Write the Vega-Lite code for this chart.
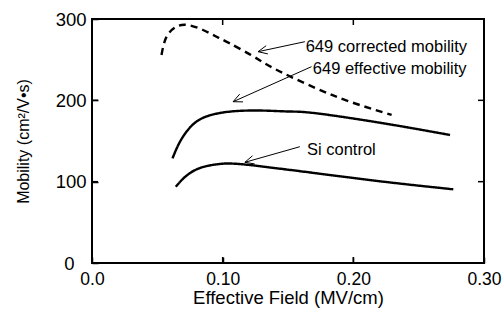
{
  "$schema": "https://vega.github.io/schema/vega-lite/v6.json",
  "width": 392,
  "height": 244,
  "autosize": "none",
  "padding": {"left": 92, "top": 19, "right": 20, "bottom": 59},
  "background": "white",
  "config": {
    "view": {"stroke": "black", "strokeWidth": 2},
    "font": "Liberation Sans",
    "axis": {"labelFont": "Liberation Sans", "titleFont": "Liberation Sans", "labelColor": "black", "titleColor": "black", "titleFontWeight": "normal", "grid": false, "domain": false}
  },
  "datasets": {
    "curves": [
      {"series": "corrected", "x": 0.0532, "y": 255.7},
      {"series": "corrected", "x": 0.057, "y": 278},
      {"series": "corrected", "x": 0.0646, "y": 290.5},
      {"series": "corrected", "x": 0.0735, "y": 292.6},
      {"series": "corrected", "x": 0.085, "y": 286.5},
      {"series": "corrected", "x": 0.0953, "y": 278.2},
      {"series": "corrected", "x": 0.1055, "y": 270},
      {"series": "corrected", "x": 0.1208, "y": 256.5},
      {"series": "corrected", "x": 0.1323, "y": 245.5},
      {"series": "corrected", "x": 0.1463, "y": 233.5},
      {"series": "corrected", "x": 0.1719, "y": 214.5},
      {"series": "corrected", "x": 0.1974, "y": 198.3},
      {"series": "corrected", "x": 0.2293, "y": 182},
      {"series": "effective", "x": 0.0616, "y": 128.6},
      {"series": "effective", "x": 0.066, "y": 145},
      {"series": "effective", "x": 0.0712, "y": 159},
      {"series": "effective", "x": 0.0774, "y": 170.5},
      {"series": "effective", "x": 0.085, "y": 178.5},
      {"series": "effective", "x": 0.095, "y": 183.5},
      {"series": "effective", "x": 0.108, "y": 186.5},
      {"series": "effective", "x": 0.128, "y": 187.5},
      {"series": "effective", "x": 0.15, "y": 186.3},
      {"series": "effective", "x": 0.1719, "y": 184},
      {"series": "effective", "x": 0.2229, "y": 171.8},
      {"series": "effective", "x": 0.274, "y": 157.4},
      {"series": "si", "x": 0.0641, "y": 93.8},
      {"series": "si", "x": 0.069, "y": 102.5},
      {"series": "si", "x": 0.0745, "y": 110},
      {"series": "si", "x": 0.081, "y": 115.8},
      {"series": "si", "x": 0.089, "y": 119.6},
      {"series": "si", "x": 0.0985, "y": 121.9},
      {"series": "si", "x": 0.108, "y": 122.2},
      {"series": "si", "x": 0.12, "y": 120.6},
      {"series": "si", "x": 0.1336, "y": 118},
      {"series": "si", "x": 0.1719, "y": 110.3},
      {"series": "si", "x": 0.2229, "y": 100},
      {"series": "si", "x": 0.2765, "y": 90.6}
    ],
    "arrows": [
      {"x": 0.1629, "y": 272.1, "x2": 0.1271, "y2": 259.8},
      {"x": 0.1346, "y": 257.1, "x2": 0.1271, "y2": 259.8},
      {"x": 0.1333, "y": 267.2, "x2": 0.1271, "y2": 259.8},
      {"x": 0.168, "y": 241.4, "x2": 0.108, "y2": 198.3},
      {"x": 0.1156, "y": 198.1, "x2": 0.108, "y2": 198.3},
      {"x": 0.113, "y": 207.6, "x2": 0.108, "y2": 198.3},
      {"x": 0.1591, "y": 143, "x2": 0.117, "y2": 123.8},
      {"x": 0.1245, "y": 121.8, "x2": 0.117, "y2": 123.8},
      {"x": 0.1228, "y": 131.8, "x2": 0.117, "y2": 123.8}
    ],
    "labels": [
      {"text": "649 corrected mobility", "x": 0.1635, "y": 265.6},
      {"text": "649 effective mobility", "x": 0.169, "y": 238.5},
      {"text": "Si control", "x": 0.1645, "y": 138.9}
    ],
    "ticks": [
      {"side": "bottom", "x": 0.1, "y": 0},
      {"side": "bottom", "x": 0.2, "y": 0},
      {"side": "top", "x": 0.1, "y": 300},
      {"side": "top", "x": 0.2, "y": 300},
      {"side": "left", "x": 0, "y": 100},
      {"side": "left", "x": 0, "y": 200},
      {"side": "right", "x": 0.3, "y": 100},
      {"side": "right", "x": 0.3, "y": 200}
    ]
  },
  "layer": [
    {
      "data": {"name": "curves"},
      "mark": {"type": "line", "interpolate": "natural", "color": "black", "strokeWidth": 2.4},
      "encoding": {
        "x": {"field": "x", "type": "quantitative", "scale": {"domain": [0, 0.3]},
          "axis": {"orient": "bottom", "grid": false, "domain": false, "values": [0, 0.1, 0.2, 0.3], "labelExpr": "datum.value == 0 ? '0.0' : format(datum.value, '.2f')", "tickSize": -6, "tickColor": "black", "tickWidth": 1.5, "labelPadding": 13, "labelFontSize": 17.5, "labelFlush": false, "title": "Effective Field (MV/cm)", "titleFontSize": 18.5, "titleBaseline": "alphabetic", "titleY": 40}},
        "y": {"field": "y", "type": "quantitative", "scale": {"domain": [0, 300]},
          "axis": {"orient": "left", "grid": false, "domain": false, "values": [0, 100, 200, 300], "tickSize": -6, "tickColor": "black", "tickWidth": 1.5, "labelPadding": {"condition": {"test": "datum.value == 0", "value": 24}, "value": 12}, "labelFontSize": 18.5, "labelFlush": false, "title": "Mobility (cm²/V•s)", "titleFontSize": 16, "titleX": -69, "titleY": 122, "titleBaseline": "middle", "titleAlign": "center"}},
        "detail": {"field": "series"},
        "strokeDash": {"field": "series", "type": "nominal", "scale": {"domain": ["corrected", "effective", "si"], "range": [[7, 5], [1, 0], [1, 0]]}, "legend": null}
      }
    },
    {
      "data": {"name": "arrows"},
      "mark": {"type": "rule", "color": "black", "strokeWidth": 1},
      "encoding": {
        "x": {"field": "x", "type": "quantitative"},
        "y": {"field": "y", "type": "quantitative"},
        "x2": {"field": "x2"},
        "y2": {"field": "y2"}
      }
    },
    {
      "data": {"name": "labels"},
      "mark": {"type": "text", "align": "left", "baseline": "middle", "fontSize": 16.5, "font": "Liberation Sans", "color": "black"},
      "encoding": {
        "x": {"field": "x", "type": "quantitative"},
        "y": {"field": "y", "type": "quantitative"},
        "text": {"field": "text"}
      }
    },
    {
      "data": {"name": "ticks"},
      "transform": [{"filter": "datum.side == 'bottom'"}],
      "mark": {"type": "tick", "orient": "vertical", "size": 6, "thickness": 1.5, "yOffset": -3, "color": "black", "opacity": 1},
      "encoding": {
        "x": {"field": "x", "type": "quantitative"},
        "y": {"field": "y", "type": "quantitative"}
      }
    },
    {
      "data": {"name": "ticks"},
      "transform": [{"filter": "datum.side == 'top'"}],
      "mark": {"type": "tick", "orient": "vertical", "size": 6, "thickness": 1.5, "yOffset": 3, "color": "black", "opacity": 1},
      "encoding": {
        "x": {"field": "x", "type": "quantitative"},
        "y": {"field": "y", "type": "quantitative"}
      }
    },
    {
      "data": {"name": "ticks"},
      "transform": [{"filter": "datum.side == 'left'"}],
      "mark": {"type": "tick", "orient": "horizontal", "size": 6, "thickness": 1.5, "xOffset": 3, "color": "black", "opacity": 1},
      "encoding": {
        "x": {"field": "x", "type": "quantitative"},
        "y": {"field": "y", "type": "quantitative"}
      }
    },
    {
      "data": {"name": "ticks"},
      "transform": [{"filter": "datum.side == 'right'"}],
      "mark": {"type": "tick", "orient": "horizontal", "size": 6, "thickness": 1.5, "xOffset": -3, "color": "black", "opacity": 1},
      "encoding": {
        "x": {"field": "x", "type": "quantitative"},
        "y": {"field": "y", "type": "quantitative"}
      }
    }
  ]
}
